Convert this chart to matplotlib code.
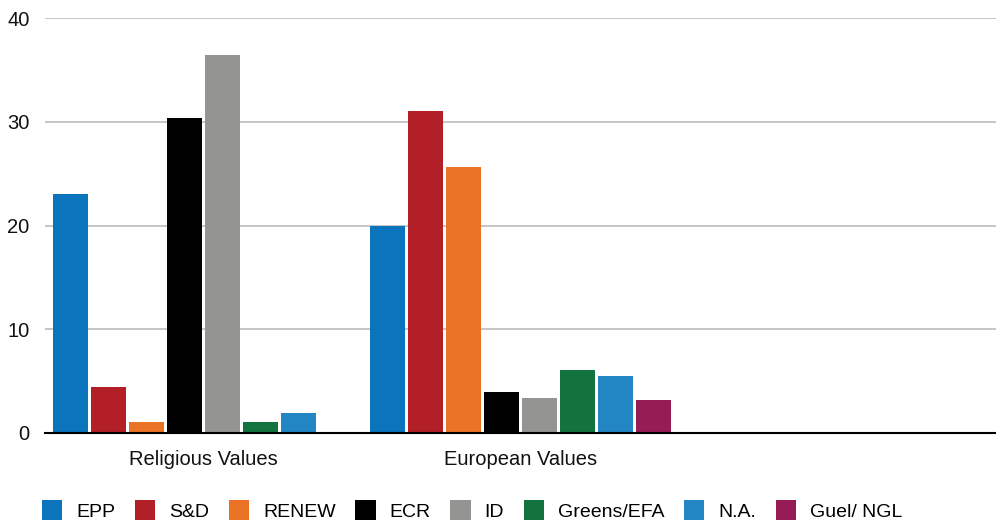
import numpy as np
import matplotlib.pyplot as plt

plt.rcParams['font.family'] = ['Liberation Sans', 'DejaVu Sans']

categories = ['Religious Values', 'European Values', '']
groups = ['EPP', 'S&D', 'RENEW', 'ECR', 'ID', 'Greens/EFA', 'N.A.', 'Guel/ NGL']
values = {
    'EPP':        [23.0, 20.0, 0],
    'S&D':        [4.4, 31.0, 0],
    'RENEW':      [1.1, 25.6, 0],
    'ECR':        [30.4, 4.0, 0],
    'ID':         [36.4, 3.4, 0],
    'Greens/EFA': [1.1, 6.1, 0],
    'N.A.':       [1.9, 5.5, 0],
    'Guel/ NGL':  [0, 3.2, 0],
}
colors = ['#0a75bc', '#b31f26', '#ea7326', '#000000', '#949492', '#12733f', '#2386c4', '#961c55']

fig = plt.figure(figsize=(9.96, 5.23), dpi=100)
ax = fig.add_axes([45/996, 1-433/523, 1-45/996, (433-18)/523])

x = np.arange(len(categories))
slot = 38/317
for i, g in enumerate(groups):
    ax.bar(x + (i-3.5)*slot, values[g], width=35/317, color=colors[i], label=g, zorder=3)

ax.set_xlim(-0.5, 2.5)
ax.set_ylim(0, 40)
ax.set_yticks([0, 10, 20, 30, 40])
ax.set_xticks(x)
ax.set_xticklabels(categories)
ax.tick_params(axis='y', length=0, labelsize=14.5, colors='#111111', pad=11)
ax.tick_params(axis='x', length=0, labelsize=14.5, colors='#111111', pad=12)
ax.yaxis.grid(True, color='#bbbbbb', linewidth=1.2, zorder=0)
for s in ['top', 'right', 'left']:
    ax.spines[s].set_visible(False)
ax.spines['bottom'].set_color('black')
ax.spines['bottom'].set_linewidth(1.5)
ax.spines['bottom'].set_zorder(4)

fig.legend(loc='lower left', bbox_to_anchor=(42/996, 2/523), ncol=8, frameon=False,
           fontsize=14, handlelength=1.05, handleheight=1.2, handletextpad=0.72,
           columnspacing=1.0, borderpad=0, borderaxespad=0)

fig.savefig('out.png', dpi=100)
